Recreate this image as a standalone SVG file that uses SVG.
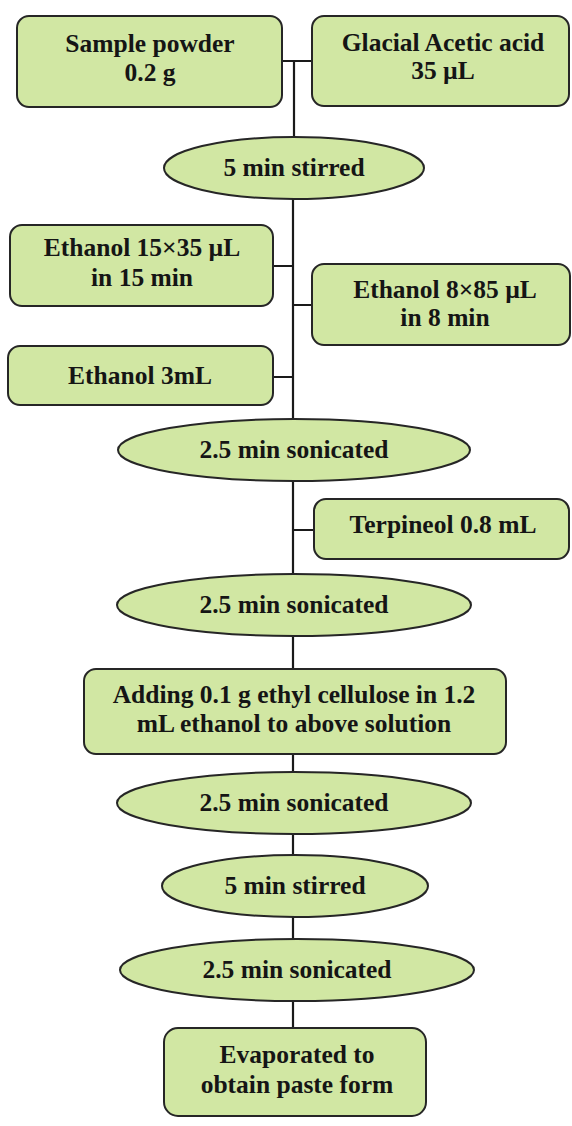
<svg xmlns="http://www.w3.org/2000/svg" width="572" height="1126" viewBox="0 0 572 1126">
<style>
.n{fill:#d1e7a3;stroke:#262626;stroke-width:2}
.t{font-family:"Liberation Serif","Times New Roman",serif;font-weight:bold;font-size:25.5px;fill:#151515;text-anchor:middle}
.c{stroke:#1a1a1a;stroke-width:2.2;fill:none}
</style>
<rect width="572" height="1126" fill="#fff"/>
<g id="connectors">
<path class="c" d="M282 61H312M294 61V137M293 199V419M273 266H293M293 305H312M273 377H293M293 481V574M293 530H314M293 637V669M293 754V772M293 834V856M293 917V939M293 1002V1028"/>
</g>
<g id="sample"><rect class="n" x="17" y="16" width="265" height="91" rx="12"/><text class="t" x="150" y="52">Sample powder</text><text class="t" x="150" y="81">0.2 g</text></g>
<g id="acetic"><rect class="n" x="312" y="16" width="257" height="90" rx="12"/><text class="t" x="443" y="51">Glacial Acetic acid</text><text class="t" x="443" y="79">35 µL</text></g>
<g id="stir1"><ellipse class="n" cx="294" cy="168" rx="130" ry="31"/><text class="t" x="294" y="176">5 min stirred</text></g>
<g id="eth15"><rect class="n" x="10" y="225" width="263" height="81" rx="12"/><text class="t" x="142" y="256">Ethanol 15×35 µL</text><text class="t" x="142" y="286">in 15 min</text></g>
<g id="eth8"><rect class="n" x="312" y="264" width="258" height="81" rx="12"/><text class="t" x="445" y="298">Ethanol 8×85 µL</text><text class="t" x="445" y="326">in 8 min</text></g>
<g id="eth3"><rect class="n" x="8" y="346" width="265" height="59" rx="12"/><text class="t" x="140" y="384">Ethanol 3mL</text></g>
<g id="son1"><ellipse class="n" cx="294" cy="450" rx="176" ry="31"/><text class="t" x="294" y="458">2.5 min sonicated</text></g>
<g id="terp"><rect class="n" x="314" y="499" width="255" height="60" rx="12"/><text class="t" x="443" y="533">Terpineol 0.8 mL</text></g>
<g id="son2"><ellipse class="n" cx="294" cy="605" rx="177" ry="31"/><text class="t" x="294" y="613">2.5 min sonicated</text></g>
<g id="adding"><rect class="n" x="84" y="669" width="422" height="85" rx="12"/><text class="t" x="294" y="703">Adding 0.1 g ethyl cellulose in 1.2</text><text class="t" x="294" y="732">mL ethanol to above solution</text></g>
<g id="son3"><ellipse class="n" cx="294" cy="803" rx="177" ry="31"/><text class="t" x="294" y="811">2.5 min sonicated</text></g>
<g id="stir2"><ellipse class="n" cx="295" cy="886" rx="133" ry="31"/><text class="t" x="295" y="894">5 min stirred</text></g>
<g id="son4"><ellipse class="n" cx="297" cy="970" rx="177" ry="31"/><text class="t" x="297" y="978">2.5 min sonicated</text></g>
<g id="evap"><rect class="n" x="164" y="1028" width="262" height="88" rx="14"/><text class="t" x="297" y="1063">Evaporated to</text><text class="t" x="297" y="1093">obtain paste form</text></g>
</svg>
